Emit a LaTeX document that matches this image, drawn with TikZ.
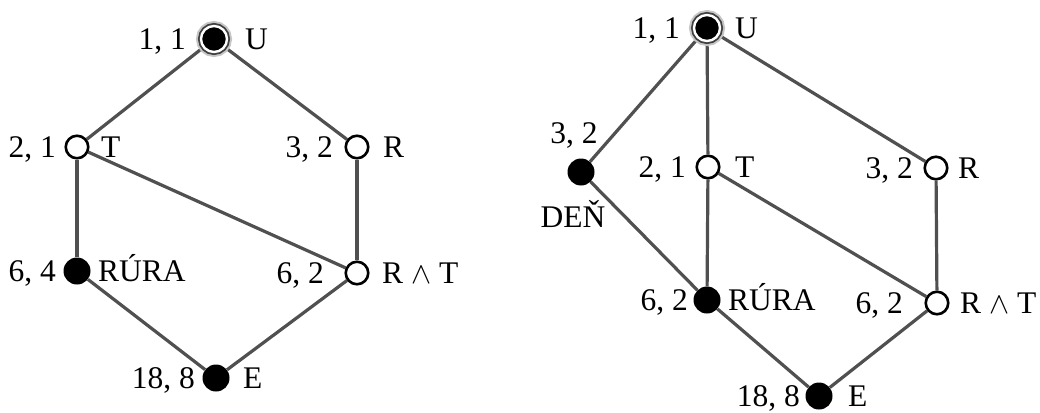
\documentclass[tikz,border=0pt]{standalone}
\usepackage{fontspec}
\usepackage{graphicx}
\setmainfont{Liberation Serif}
\usetikzlibrary{calc,backgrounds}
\definecolor{edgegray}{RGB}{80,80,80}
\newcommand\lablL[4]{\node[lbl,anchor=base east] (#1) at ($(#2)+(-#3,10.5)$) {#4};}
\newcommand\lablR[4]{\node[lbl,anchor=base west] (#1) at ($(#2)+(#3,10.5)$) {#4};}
\newcommand\andsym{\scalebox{1.45}{\fontsize{21}{24}\selectfont$\wedge$}}
\begin{document}
\begin{tikzpicture}[x=1pt,y=-1pt,
  edge/.style={draw=edgegray, line width=3.2pt},
  opn/.style={circle, draw=black, fill=white, line width=2.6pt, minimum size=22.5pt, inner sep=0pt},
  blk/.style={circle, fill=black, minimum size=27pt, inner sep=0pt},
  topn/.style={circle, fill=black, draw=white, line width=2.4pt, minimum size=26pt, inner sep=0pt,
    preaction={draw=gray!45, line width=10pt},
    preaction={draw=gray!50!black, line width=6pt}},
  lbl/.style={inner sep=0pt, font=\fontsize{31.5}{36}\selectfont}]
\useasboundingbox (0,0) rectangle (1040,412);
% left diagram
\node[topn] (u1) at (214,39) {};
\node[opn] (t1) at (77,147) {};
\node[opn] (r1) at (357,147) {};
\node[blk] (ru1) at (77,271) {};
\node[opn] (rt1) at (357,273) {};
\node[blk] (e1) at (216,378) {};
% right diagram
\node[topn] (u2) at (707,28) {};
\node[blk] (d2) at (581,172) {};
\node[opn] (t2) at (708,167) {};
\node[opn] (r2) at (936,168) {};
\node[blk] (ru2) at (707,300) {};
\node[opn] (rt2) at (937,303) {};
\node[blk] (e2) at (819,396) {};
% labels left
\lablL{u1a}{u1}{28}{1, 1}
\lablR{u1b}{u1}{31}{U}
\lablL{t1a}{t1}{21}{2, 1}
\lablR{t1b}{t1}{24}{T}
\lablL{r1a}{r1}{24}{3, 2}
\lablR{r1b}{r1}{26}{R}
\lablL{ru1a}{ru1}{21}{6, 4}
\lablR{ru1b}{ru1}{21}{RÚRA}
\lablL{rt1a}{rt1}{33}{6, 2}
\lablR{rt1b}{rt1}{25}{R \andsym{} T}
\lablL{e1a}{e1}{21}{18, 8}
\lablR{e1b}{e1}{27}{E}
% labels right
\lablL{u2a}{u2}{27}{1, 1}
\lablR{u2b}{u2}{28}{U}
\node[lbl,anchor=base] (d2a) at ($(d2)+(-7,-29)$) {3, 2};
\node[lbl,anchor=base] (d2b) at ($(d2)+(-8,55)$) {DEŇ};
\lablL{t2a}{t2}{22}{2, 1}
\lablR{t2b}{t2}{27}{T}
\lablL{r2a}{r2}{23}{3, 2}
\lablR{r2b}{r2}{22}{R}
\lablL{ru2a}{ru2}{19}{6, 2}
\lablR{ru2b}{ru2}{21}{RÚRA}
\lablL{rt2a}{rt2}{34}{6, 2}
\lablR{rt2b}{rt2}{23}{R \andsym{} T}
\lablL{e2a}{e2}{19}{18, 8}
\lablR{e2b}{e2}{29}{E}
\begin{scope}[on background layer]
\fill[white] (0,0) rectangle (1040,412);
\draw[edge] (u1) -- (t1);
\draw[edge] (u1) -- (r1);
\draw[edge] (t1) -- (ru1);
\draw[edge] (t1) -- (rt1);
\draw[edge] (r1) -- (rt1);
\draw[edge] (ru1) -- (e1);
\draw[edge] (rt1) -- (e1);
\draw[edge] (u2) -- (d2);
\draw[edge] (u2) -- (t2);
\draw[edge] (u2) -- (r2);
\draw[edge] (d2) -- (ru2);
\draw[edge] (t2) -- (ru2);
\draw[edge] (t2) -- (rt2);
\draw[edge] (r2) -- (rt2);
\draw[edge] (ru2) -- (e2);
\draw[edge] (rt2) -- (e2);
\end{scope}
\end{tikzpicture}
\end{document}
